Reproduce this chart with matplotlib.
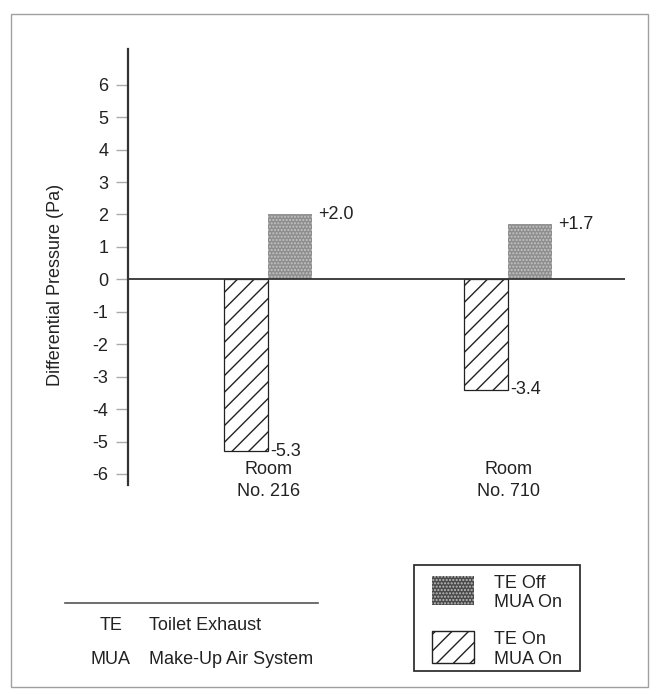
import numpy as np
import matplotlib
matplotlib.use('Agg')
import matplotlib.pyplot as plt
from matplotlib.patches import Rectangle

plt.rcParams['font.family'] = ['Liberation Sans', 'DejaVu Sans']

# Daten
rooms = ['Room\nNo. 216', 'Room\nNo. 710']
te_off = [2.0, 1.7]      # TE Off / MUA On
te_on = [-5.3, -3.4]     # TE On / MUA On
off_labels = ['+2.0', '+1.7']
on_labels = ['-5.3', '-3.4']
yticks = list(range(-6, 7))

room_pos = np.array([2.82, 7.65])
w = 0.89
fs = 13
tc = '#222222'

fig = plt.figure(figsize=(6.56, 6.94), dpi=100)
ax = fig.add_axes([128 / 656, 1 - 485 / 694, 497 / 656, 436 / 694])

# Balken
ax.bar(room_pos - w / 2, te_on, w, color='white', edgecolor='#222222',
       hatch='//', linewidth=0.9, zorder=2)
ax.bar(room_pos + w / 2, te_off, w, color='#8e8e8e', edgecolor='#c4c4c4',
       hatch='.....', linewidth=0, zorder=2)

for i in range(len(rooms)):
    ax.text(room_pos[i] + w + 0.12, te_off[i], off_labels[i], fontsize=fs,
            ha='left', va='center', color=tc)
    ax.text(room_pos[i] + 0.05, te_on[i], on_labels[i], fontsize=fs,
            ha='left', va='center', color=tc)
    ax.text(room_pos[i], -6.2, rooms[i], fontsize=fs, ha='center',
            va='center', color=tc, linespacing=1.4)

ax.axhline(0, color='#333333', linewidth=1.3, zorder=3)
ax.set_xlim(0, 10)
ax.set_ylim(-6.34, 7.1)
ax.set_yticks(yticks)
ax.set_yticklabels([str(t) for t in yticks])
ax.set_xticks([])
ax.tick_params(axis='y', length=9, width=1, color='#aaaaaa', labelsize=fs,
               labelcolor=tc, pad=5)
for s in ['top', 'right', 'bottom']:
    ax.spines[s].set_visible(False)
ax.spines['left'].set_color('#333333')
ax.spines['left'].set_linewidth(1.6)
ax.set_ylabel('Differential Pressure (Pa)', fontsize=fs, color=tc)
ax.yaxis.set_label_coords(-0.128, 0.46)
ax.patch.set_visible(False)

# Rahmen, Abkuerzungen und Legende (Pixelkoordinaten)
ov = fig.add_axes([0, 0, 1, 1])
ov.set_xlim(0, 656)
ov.set_ylim(694, 0)
ov.axis('off')
ov.patch.set_visible(False)
ov.add_patch(Rectangle((11, 14), 637, 673, fill=False, edgecolor='#a0a0a0', linewidth=1))

ov.plot([65, 318], [603, 603], color='#555555', linewidth=1.2)
ov.text(111, 625, 'TE', fontsize=fs, ha='center', va='center', color=tc)
ov.text(149, 625, 'Toilet Exhaust', fontsize=fs, ha='left', va='center', color=tc)
ov.text(91, 660, 'MUA', fontsize=fs, ha='left', va='center', color=tc)
ov.text(149, 660, 'Make-Up Air System', fontsize=fs, ha='left', va='center', color=tc)

ov.add_patch(Rectangle((414, 565), 166, 106, fill=False, edgecolor='#333333', linewidth=1.3))
ov.add_patch(Rectangle((432, 576), 42, 29, facecolor='#4a4a4a', edgecolor='#bdbdbd',
                       hatch='.....', linewidth=0))
ov.add_patch(Rectangle((432, 631), 42, 32, facecolor='white', edgecolor='#222222',
                       hatch='//', linewidth=1.0))
ov.text(494, 593, 'TE Off\nMUA On', fontsize=fs, ha='left', va='center',
        color=tc, linespacing=1.2)
ov.text(494, 649.5, 'TE On\nMUA On', fontsize=fs, ha='left', va='center',
        color=tc, linespacing=1.2)

plt.savefig('out.png', dpi=100)
